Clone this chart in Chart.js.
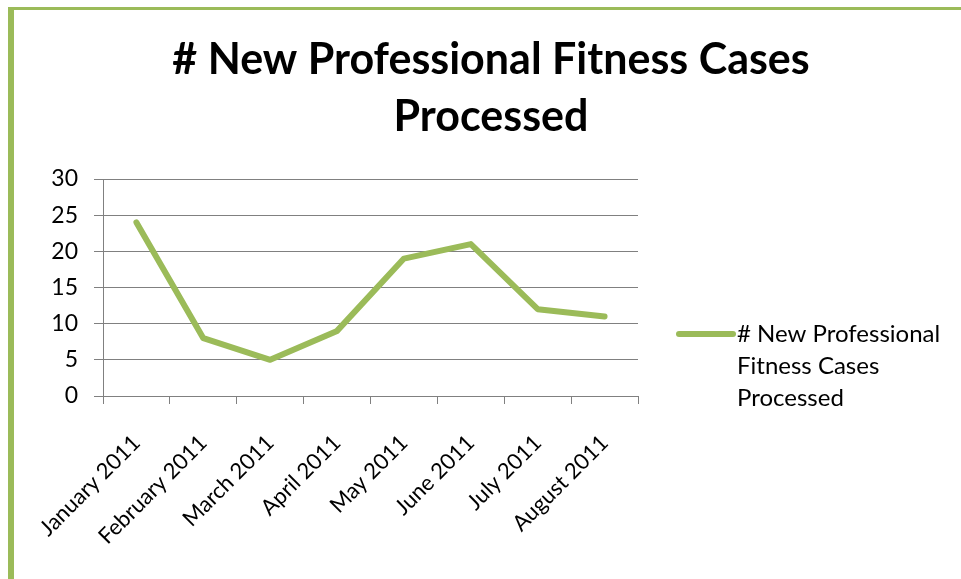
<!DOCTYPE html>
<html>
<head>
<meta charset="utf-8">
<script src="https://cdn.jsdelivr.net/npm/chart.js@4"></script>
<style>
  html, body { margin: 0; padding: 0; background: #fff; }
  #wrap { position: relative; width: 961px; height: 579px; overflow: hidden; }
  #frame {
    position: absolute; left: 8px; top: 7px; right: -10px; bottom: -10px;
    border-left: 6px solid #9bbb59; border-top: 3px solid #9bbb59;
  }
  #cv { position: absolute; left: 0; top: 0; }
</style>
</head>
<body>
<div id="wrap">
  <div id="frame"></div>
  <canvas id="cv" width="961" height="579"></canvas>
</div>
<script>
const months = ["January 2011", "February 2011", "March 2011", "April 2011", "May 2011", "June 2011", "July 2011", "August 2011"];
const casesProcessed = [24, 8, 5, 9, 19, 21, 12, 11];
const seriesName = "# New Professional Fitness Cases Processed";
const titleLines = ["# New Professional Fitness Cases", "Processed"];
const legendLines = ["# New Professional", "Fitness Cases", "Processed"];

const green = "#9bbb59";
const grey = "#808080";
const font = "Lato, 'Open Sans', sans-serif";

// title centred on the whole picture, not just the plot
const bigTitle = {
  id: "bigTitle",
  afterDraw(chart) {
    const ctx = chart.ctx;
    ctx.save();
    ctx.fillStyle = "#000";
    ctx.font = "bold 43px " + font;
    ctx.textAlign = "center";
    ctx.textBaseline = "alphabetic";
    ctx.fillText(titleLines[0], 491, 74);
    ctx.fillText(titleLines[1], 491, 131);
    ctx.restore();
  },
};

// legend on the right, wrapped over three lines like the original
const sideLegend = {
  id: "sideLegend",
  afterDraw(chart) {
    const ctx = chart.ctx;
    const x = 679, y = 334;
    ctx.save();
    ctx.strokeStyle = green;
    ctx.lineWidth = 6;
    ctx.lineCap = "round";
    ctx.beginPath();
    ctx.moveTo(x, y);
    ctx.lineTo(x + 54, y);
    ctx.stroke();
    ctx.fillStyle = "#000";
    ctx.font = "24px " + font;
    ctx.textBaseline = "middle";
    legendLines.forEach((t, i) => ctx.fillText(t, x + 58, y + i * 32));
    ctx.restore();
  },
};

new Chart(document.getElementById("cv"), {
  type: "line",
  data: {
    labels: months,
    datasets: [
      {
        label: seriesName,
        data: casesProcessed,
        borderColor: green,
        backgroundColor: green,
        borderWidth: 6,
        pointRadius: 0,
        tension: 0,
        borderCapStyle: "round",
        borderJoinStyle: "round",
      },
    ],
  },
  options: {
    responsive: false,
    animation: false,
    layout: { padding: { left: 0, right: 323, top: 179, bottom: 0 } },
    plugins: {
      legend: { display: false },
      tooltip: { enabled: false },
      title: { display: false },
    },
    scales: {
      x: {
        offset: true,
        grid: {
          offset: true,
          drawOnChartArea: false,
          drawTicks: true,
          tickLength: 8,
          color: grey,
        },
        border: { color: grey, width: 1 },
        ticks: {
          color: "#000",
          font: { family: font, size: 22 },
          maxRotation: 45,
          minRotation: 45,
          padding: 26,
        },
        afterFit(scale) {
          scale.height = 183;
        },
      },
      y: {
        min: 0,
        max: 30,
        ticks: {
          stepSize: 5,
          color: "#000",
          font: { family: font, size: 23 },
          padding: 16,
        },
        grid: { color: grey, tickLength: 9 },
        border: { color: grey, width: 1 },
        afterFit(scale) {
          scale.width = 103;
        },
      },
    },
  },
  plugins: [bigTitle, sideLegend],
});
</script>
</body>
</html>
